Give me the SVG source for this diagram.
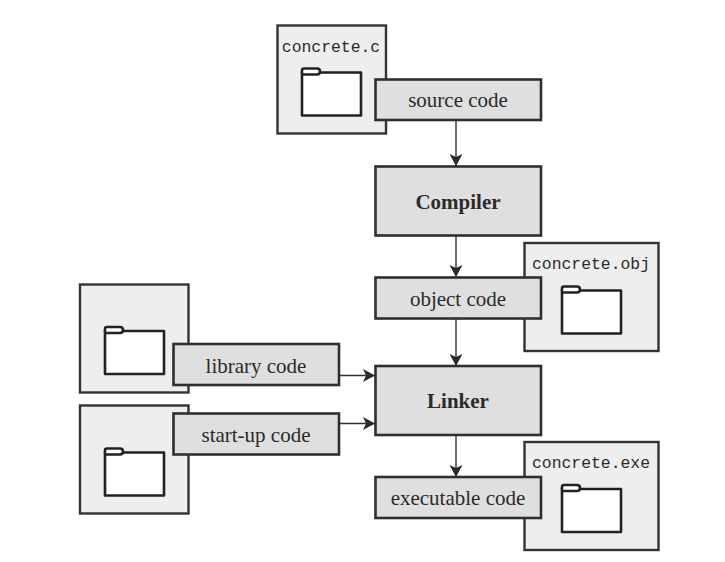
<svg xmlns="http://www.w3.org/2000/svg" xmlns:xlink="http://www.w3.org/1999/xlink" width="725" height="562" viewBox="0 0 725 562">
<style>
.file{fill:#eeeeef;stroke:#333335;stroke-width:2.4}
.box{fill:#dfdfdf;stroke:#2f2f31;stroke-width:2.6}
.folder{fill:#fff;stroke:#222224;stroke-width:2.6;stroke-linejoin:round}
.lbl{font-family:"Liberation Serif",serif;font-size:21px;fill:#2a2a2a;text-anchor:middle}
.b{font-weight:bold;font-size:21px}
.mono{font-family:"Liberation Mono",monospace;font-size:16.400px;fill:#2a2a2a;text-anchor:middle}
.c{stroke:#2f2f31;stroke-width:1.4;fill:none;marker-end:url(#a)}
</style>
<defs>
<marker id="a" markerUnits="userSpaceOnUse" markerWidth="14" markerHeight="14" refX="12" refY="7" orient="auto">
<path d="M0 0.5L12 7L0 13.5L3 7Z" fill="#2a2a2c"/>
</marker>
<g id="fld">
<path class="folder" d="M0 4V47H59V4Z"/>
<path class="folder" d="M0 5V2Q0 0 2 0H15Q18 0 18 3Q18 6 15 6H0"/>
</g>
</defs>
<g id="connectors">
<path class="c" d="M456 120V166"/>
<path class="c" d="M456 236V277"/>
<path class="c" d="M456 319V366"/>
<path class="c" d="M456 435V477"/>
<path class="c" d="M339 375.500H375"/>
<path class="c" d="M339 423.500H375"/>
</g>
<g id="file-concrete-c"><rect class="file" x="277.500" y="25.500" width="108.500" height="108"/><text class="mono" x="331" y="52">concrete.c</text><use xlink:href="#fld" href="#fld" x="302" y="68.500"/></g>
<g id="source-code"><rect class="box" x="375.500" y="79.500" width="165.500" height="40.500"/><text class="lbl" x="458" y="106.500">source code</text></g>
<g id="compiler"><rect class="box" x="375.500" y="166.500" width="165.500" height="69"/><text class="lbl b" x="458" y="208.500">Compiler</text></g>
<g id="file-concrete-obj"><rect class="file" x="524.500" y="243" width="134" height="108"/><text class="mono" x="591" y="269">concrete.obj</text><use xlink:href="#fld" href="#fld" x="562" y="286.500"/></g>
<g id="object-code"><rect class="box" x="375.500" y="277.500" width="165.500" height="41"/><text class="lbl" x="458" y="305.500">object code</text></g>
<g id="file-library"><rect class="file" x="80" y="284.500" width="108.500" height="108"/><use xlink:href="#fld" href="#fld" x="105" y="327"/></g>
<g id="library-code"><rect class="box" x="173.500" y="344" width="165.500" height="41"/><text class="lbl" x="256" y="372.500">library code</text></g>
<g id="file-startup"><rect class="file" x="80" y="405.500" width="108.500" height="108"/><use xlink:href="#fld" href="#fld" x="105" y="448.500"/></g>
<g id="startup-code"><rect class="box" x="173.500" y="413.500" width="165.500" height="41"/><text class="lbl" x="256" y="441.500">start-up code</text></g>
<g id="linker"><rect class="box" x="375.500" y="366" width="165.500" height="69"/><text class="lbl b" x="458" y="407.500">Linker</text></g>
<g id="file-concrete-exe"><rect class="file" x="524.500" y="442" width="134" height="108"/><text class="mono" x="591" y="468">concrete.exe</text><use xlink:href="#fld" href="#fld" x="562" y="485"/></g>
<g id="executable-code"><rect class="box" x="375.500" y="477" width="165.500" height="41"/><text class="lbl" x="458" y="504.500">executable code</text></g>
</svg>
